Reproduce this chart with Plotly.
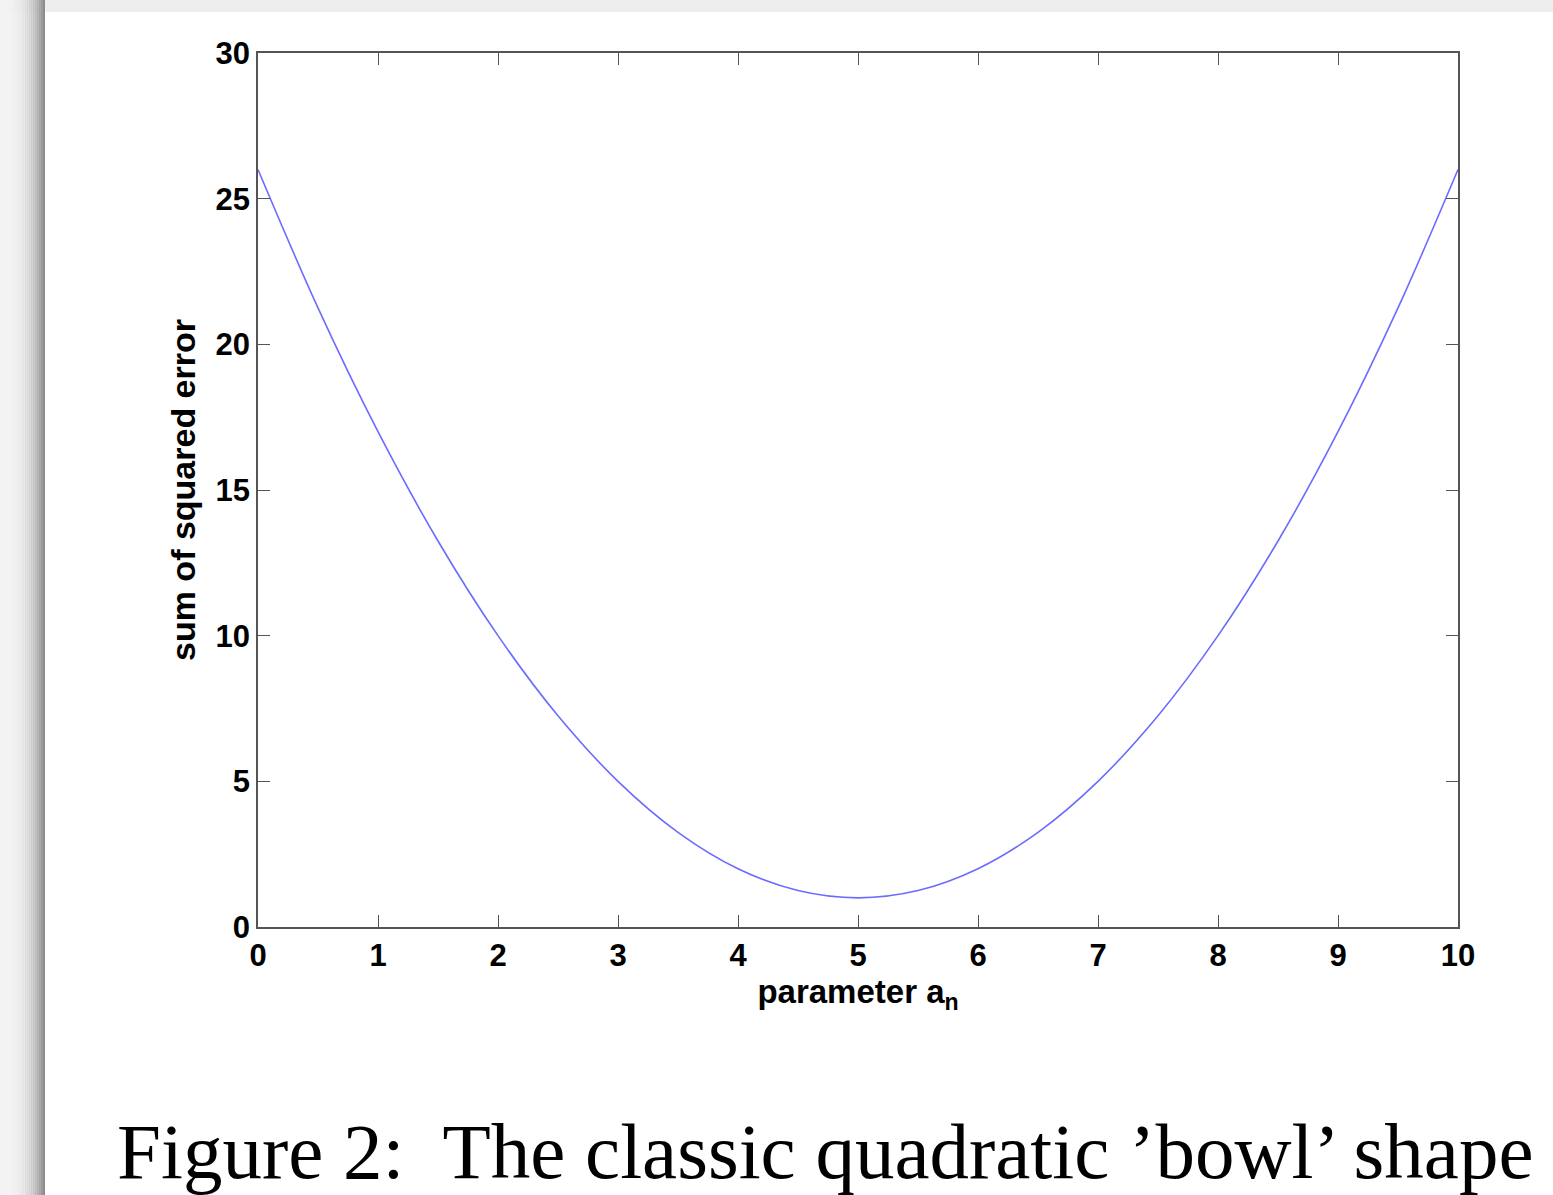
import plotly.graph_objects as go

# ---- data ----
param_a = [0, 0.5, 1, 1.5, 2, 2.5, 3, 3.5, 4, 4.5, 5, 5.5, 6, 6.5, 7, 7.5, 8, 8.5, 9, 9.5, 10]
sse = [26, 21.25, 17, 13.25, 10, 7.25, 5, 3.25, 2, 1.25, 1, 1.25, 2, 3.25, 5, 7.25, 10, 13.25, 17, 21.25, 26]
x_ticks = [0, 1, 2, 3, 4, 5, 6, 7, 8, 9, 10]
y_ticks = [0, 5, 10, 15, 20, 25, 30]
caption = "Figure 2:  The classic quadratic ’bowl’ shape"

W, H = 1553, 1195
L, R, T, B = 258, 1458, 53, 927


def px(x):
    return (x - L) / (R - L)


def py(y):
    return (B - y) / (B - T)


fig = go.Figure()
fig.add_trace(go.Scatter(x=param_a, y=sse, mode="lines",
                         line=dict(color="#6b6bff", width=1.6, shape="spline"),
                         showlegend=False, hoverinfo="skip"))

axis_common = dict(showline=True, linecolor="#555555", linewidth=1.5, mirror="ticks",
                   ticks="inside", ticklen=12, tickwidth=1.3, tickcolor="#555555",
                   showgrid=False, zeroline=False,
                   tickfont=dict(family="Liberation Sans, Arial", size=31, color="black", weight="bold"))

fig.update_xaxes(range=[0, 10], tickvals=x_ticks, ticktext=[str(v) for v in x_ticks],
                 title=dict(text="parameter a<sub>n</sub>", standoff=0,
                            font=dict(family="Liberation Sans, Arial", size=33, color="black", weight="bold")),
                 **axis_common)
fig.update_yaxes(range=[0, 30], tickvals=y_ticks, ticktext=[str(v) for v in y_ticks],
                 title=dict(text="sum of squared error", standoff=10,
                            font=dict(family="Liberation Sans, Arial", size=34, color="black", weight="bold")),
                 **axis_common)

shapes = []
# top grey strip
shapes.append(dict(type="rect", xref="paper", yref="paper", x0=px(0), x1=px(W), y0=py(0), y1=py(12),
                   fillcolor="#eeeeee", line=dict(width=0), layer="below"))
# left shadow gradient
n = 22
for i in range(n):
    x0 = 45 * i / n
    x1 = 45 * (i + 1) / n
    t = (i + 1) / n
    g = int(244 - (244 - 140) * (t ** 3))
    shapes.append(dict(type="rect", xref="paper", yref="paper", x0=px(x0), x1=px(x1), y0=py(H), y1=py(0),
                       fillcolor=f"rgb({g},{g},{g})", line=dict(width=0), layer="below"))

fig.update_layout(
    width=W, height=H,
    margin=dict(l=L, r=W - R, t=T, b=H - B, autoexpand=False),
    paper_bgcolor="white", plot_bgcolor="white",
    shapes=shapes,
    annotations=[dict(text=caption, xref="paper", yref="paper", x=px(115), y=py(1151),
                      xanchor="left", yanchor="middle", showarrow=False,
                      font=dict(family="Liberation Serif, Times New Roman", size=79, color="black"))],
)

fig.write_html("out.html", config={"displayModeBar": False},
               post_script="document.body.style.margin='0';document.body.style.overflow='hidden';")
